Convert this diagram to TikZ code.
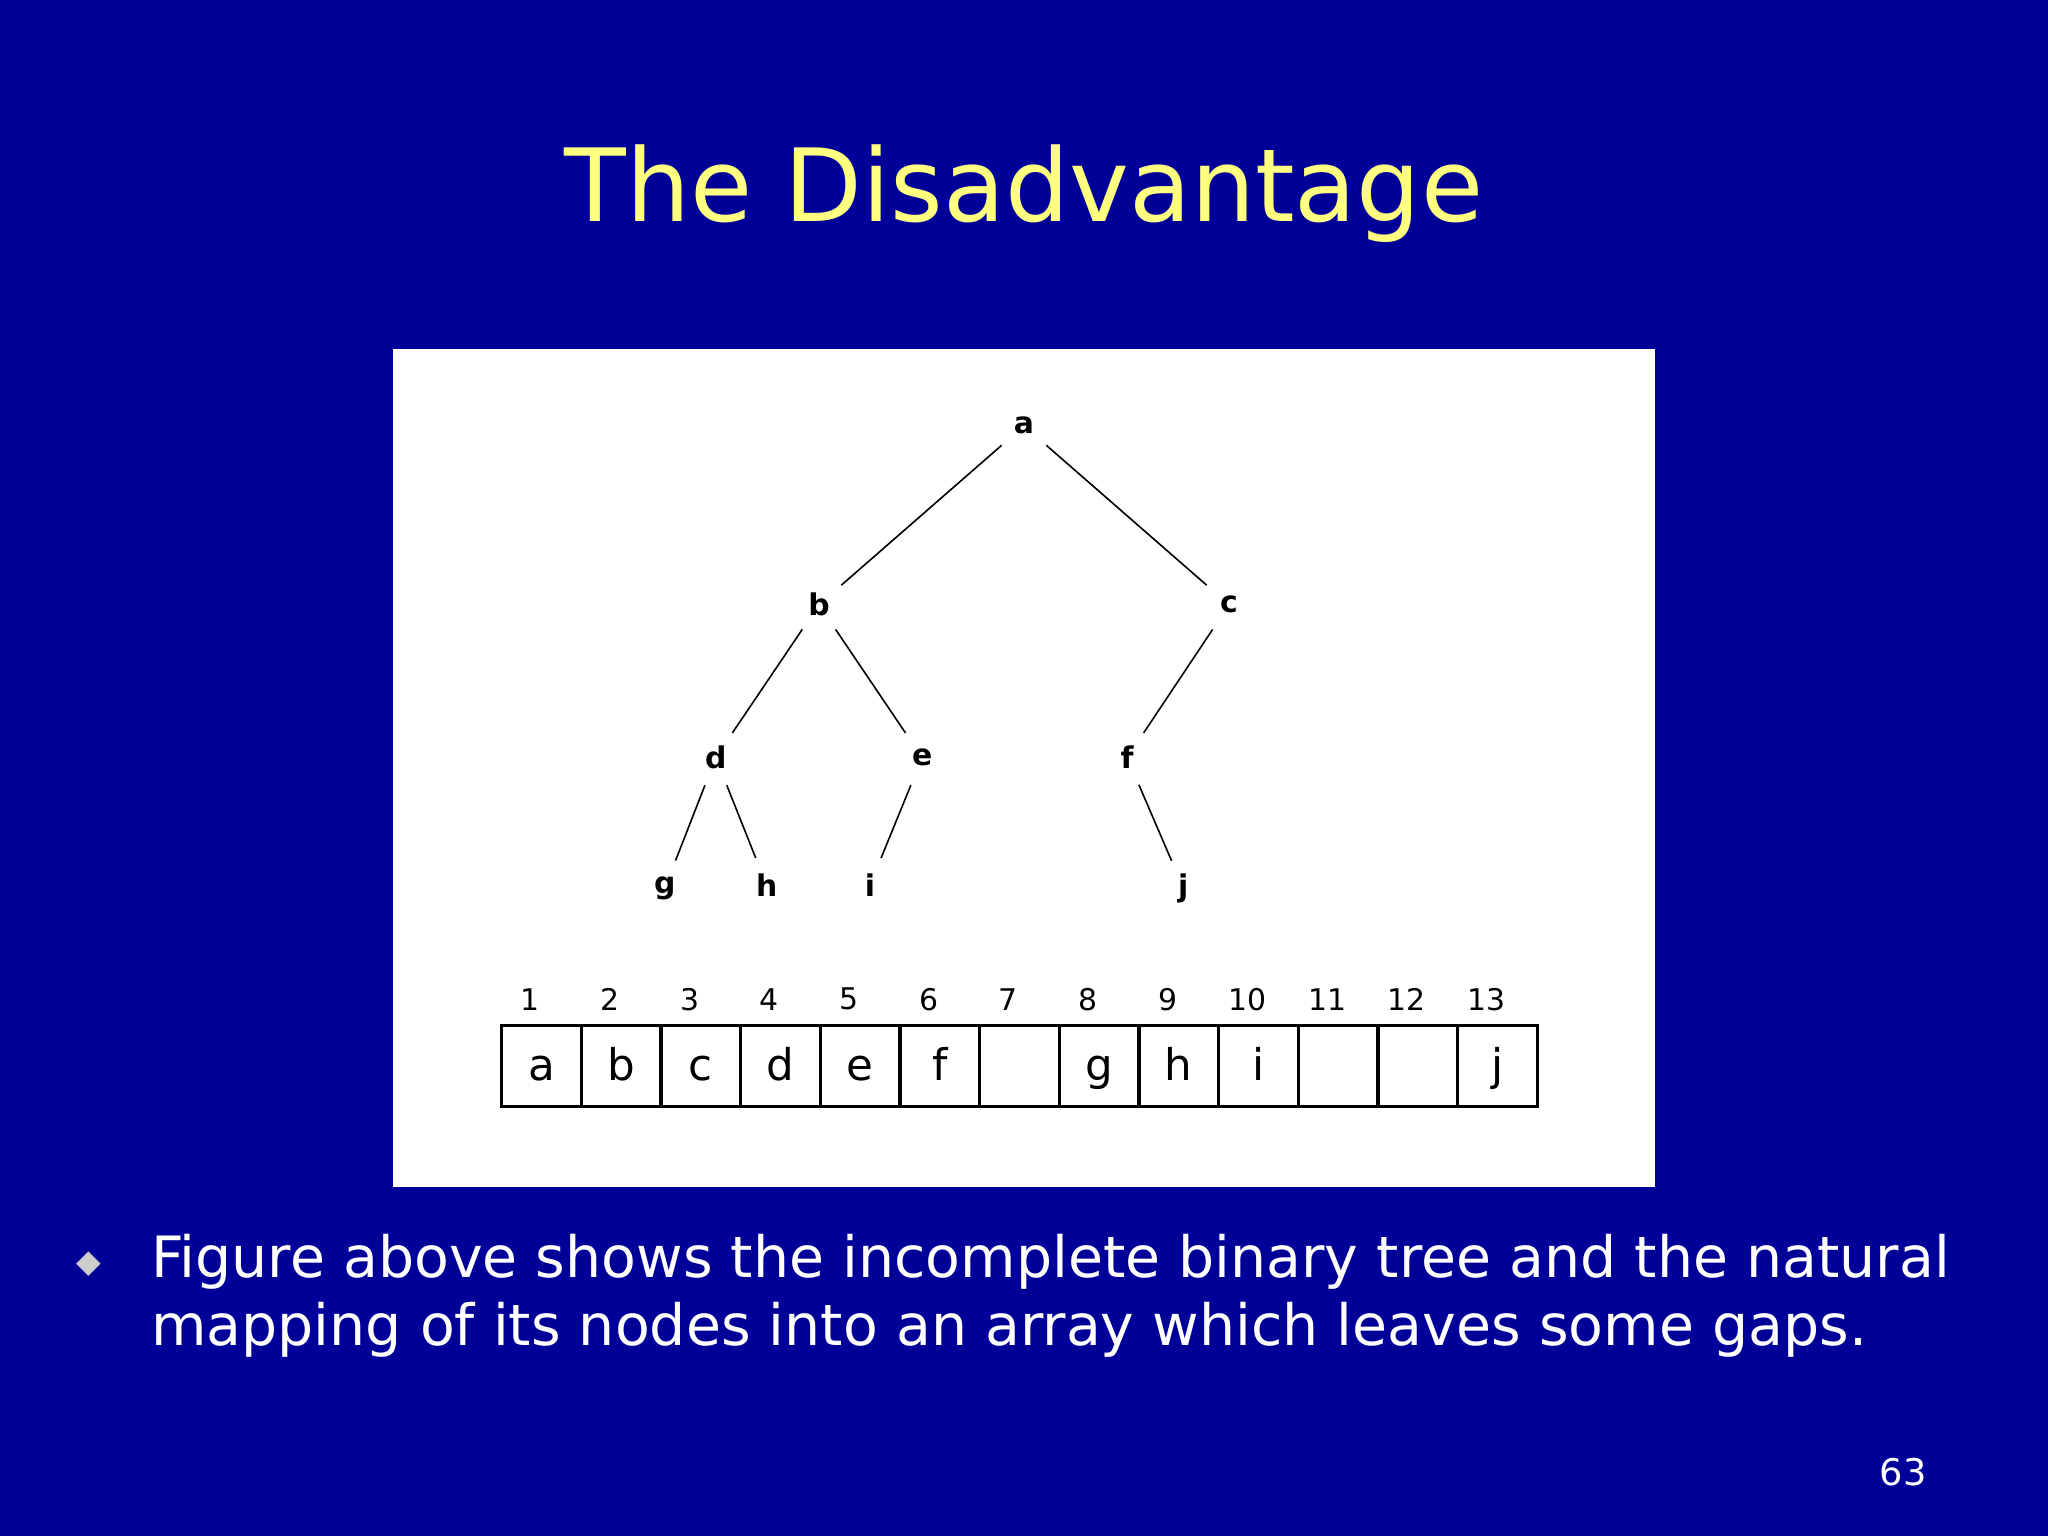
\documentclass[tikz,border=0pt]{standalone}
\usepackage{fontspec}
\setmainfont{DejaVu Sans}
\definecolor{bg}{RGB}{0,0,153}
\definecolor{ttl}{RGB}{255,255,128}
\begin{document}
\begin{tikzpicture}[x=0.01cm,y=-0.01cm,
  tn/.style={circle,minimum size=0.44cm,inner sep=0,font=\fontsize{6.5}{7}\selectfont\bfseries},
  cell/.style={draw,line width=0.7pt,minimum width=0.61cm,minimum height=0.62cm,inner sep=0,text height=1.5ex,text depth=0.35ex,font=\fontsize{9.5}{10}\selectfont},
  idx/.style={font=\fontsize{6.5}{7}\selectfont},
  edge/.style={line width=0.35pt}]
\useasboundingbox (0,0) rectangle (1568,1176);
\fill[bg] (0,0) rectangle (1568,1176);
\node[text=ttl,font=\fontsize{22}{26}\selectfont] (title) at (784,148) {The Disadvantage};
\fill[white] (301,267) rectangle (1267,909);
\node[tn] (a) at (784,326) {a};
\node[tn] (b) at (627,463) {b};
\node[tn] (c) at (941,463) {c};
\node[tn] (d) at (548,580) {d};
\node[tn] (e) at (706,580) {e};
\node[tn] (f) at (863,580) {f};
\node[tn] (g) at (509,680) {g};
\node[tn] (h) at (587,678) {h};
\node[tn] (i) at (666,678) {i};
\node[tn] (j) at (906,680) {j};
\foreach \u/\v in {a/b,a/c,b/d,b/e,c/f,d/g,d/h,e/i,f/j}
  \draw[edge] (\u) -- (\v);
\foreach \k/\t in {1/a,2/b,3/c,4/d,5/e,6/f,7/,8/g,9/h,10/i,11/,12/,13/j}{
  \node[cell] (c\k) at ({384+30.5+61*(\k-1)},816) {\t};
  \node[idx] (n\k) at ({384+22+61*(\k-1)},765) {\k};
}
\node[text=white!80!black,font=\fontsize{7}{8}\selectfont] (bul) at (68,968) {◆};
\node[text=white,anchor=north west,align=left,inner sep=0,
  font=\fontsize{12.4}{14.8}\selectfont] (txt) at (115,944)
  {Figure above shows the incomplete binary tree and the natural\\mapping of its nodes into an array which leaves some gaps.};
\node[text=white,font=\fontsize{8}{9}\selectfont] (pg) at (1457,1127) {63};
\end{tikzpicture}
\end{document}
